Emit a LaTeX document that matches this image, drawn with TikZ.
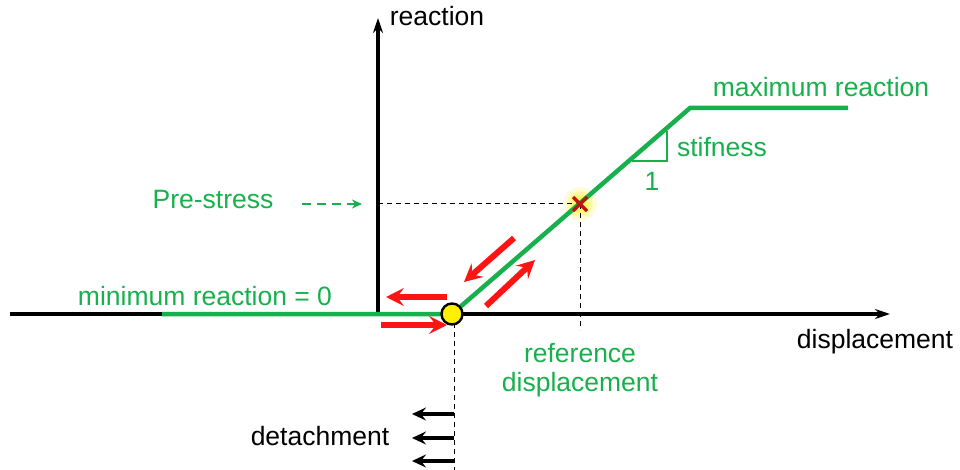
\documentclass[tikz,border=0pt]{standalone}
\usepackage{fontspec}
\setmainfont{Liberation Sans}
\usetikzlibrary{arrows.meta}
\definecolor{gr}{RGB}{24,176,76}
\definecolor{rd}{RGB}{255,20,20}
\definecolor{dr}{RGB}{190,20,20}
\definecolor{yl}{RGB}{255,240,0}
\begin{document}
\begin{tikzpicture}[x=1pt,y=-1pt,
  axis/.style={line width=3.6pt,-{Stealth[length=15pt,width=10pt]}},
  curve/.style={draw=gr,line width=4.5pt},
  redarrow/.style={draw=rd,line width=6pt,-{Stealth[length=18pt,width=18pt,inset=7pt]}},
  guide/.style={line width=1pt,dash pattern=on 5pt off 4pt},
  lbl/.style={font=\fontsize{26.5}{30}\selectfont,inner sep=0pt},
  glbl/.style={lbl,text=gr},
  detarrow/.style={line width=3.6pt,-{Stealth[length=14pt,width=13pt,inset=5pt]}}]
\useasboundingbox (0,0) rectangle (960,470);
% coordinates
\coordinate (o) at (378,314);
\coordinate (xl) at (10,314);
\coordinate (xr) at (890,314);
\coordinate (yt) at (378,18);
\coordinate (gs) at (162,314);
\coordinate (d0) at (452,314);
\coordinate (kn) at (690,108);
\coordinate (ge) at (848,108);
\coordinate (rx) at (580,204);
\coordinate (py) at (378,204);
\coordinate (rb) at (580,330);
\coordinate (dt) at (454,314);
\coordinate (db) at (454,470);
% glow
\fill[yl,opacity=0.15] (rx) circle (17);
\fill[yl,opacity=0.25] (rx) circle (13);
\fill[yl,opacity=0.35] (rx) circle (9);
% guides
\draw[guide] (py) -- (rx);
\draw[guide] (rx) -- (rb);
\draw[guide] (dt) -- (db);
% axes
\draw[axis] (xl) -- (xr);
\draw[axis] (o) -- (yt);
% green curve
\draw[curve,line cap=butt] (gs) -- (d0) -- (kn) -- (ge);
% stiffness triangle
\coordinate (t1) at (632,161);
\coordinate (t2) at (667,161);
\coordinate (t3) at (667,131);
\draw[gr,line width=1.4pt] (t1) -- (t2) -- (t3);
% red x
\draw[dr,line width=3.2pt] (573,197) -- (587,211) (587,197) -- (573,211);
% yellow circle
\node[circle,draw=black,fill=yl,line width=2.4pt,minimum size=21pt,inner sep=0pt] (yc) at (d0) {};
% red arrows
\coordinate (a1s) at (447,297); \coordinate (a1e) at (386,297);
\coordinate (a2s) at (381,325); \coordinate (a2e) at (447,325);
\coordinate (a3s) at (514,238); \coordinate (a3e) at (464,282);
\coordinate (a4s) at (486,306); \coordinate (a4e) at (535,260);
\draw[redarrow] (a1s) -- (a1e);
\draw[redarrow] (a2s) -- (a2e);
\draw[redarrow] (a3s) -- (a3e);
\draw[redarrow] (a4s) -- (a4e);
% detachment arrows
\coordinate (b1s) at (454,414); \coordinate (b1e) at (412,414);
\coordinate (b2s) at (454,438); \coordinate (b2e) at (412,438);
\coordinate (b3s) at (454,461); \coordinate (b3e) at (412,461);
\draw[detarrow] (b1s) -- (b1e);
\draw[detarrow] (b2s) -- (b2e);
\draw[detarrow] (b3s) -- (b3e);
% pre-stress arrow
\coordinate (ps1) at (302,204); \coordinate (ps2) at (362,204);
\draw[gr,line width=2.4pt,dash pattern=on 9pt off 6pt,-{Stealth[length=10pt,width=9pt]}] (ps1) -- (ps2);
% labels
\node[lbl,anchor=base] (reaction) at (437,26) {reaction};
\node[lbl,anchor=base] (disp) at (875,348) {displacement};
\node[glbl,anchor=base] (maxr) at (821,97) {maximum reaction};
\node[glbl,anchor=base] (stif) at (722,157) {stifness};
\node[glbl,anchor=base] (one) at (652,191) {1};
\node[glbl,anchor=base] (pre) at (213,209) {Pre-stress};
\node[glbl,anchor=base] (minr) at (205,305) {minimum reaction = 0};
\node[glbl,anchor=base] (ref1) at (580,362) {reference};
\node[glbl,anchor=base] (ref2) at (580,391) {displacement};
\node[lbl,anchor=base] (det) at (320,445) {detachment};
\end{tikzpicture}
\end{document}
